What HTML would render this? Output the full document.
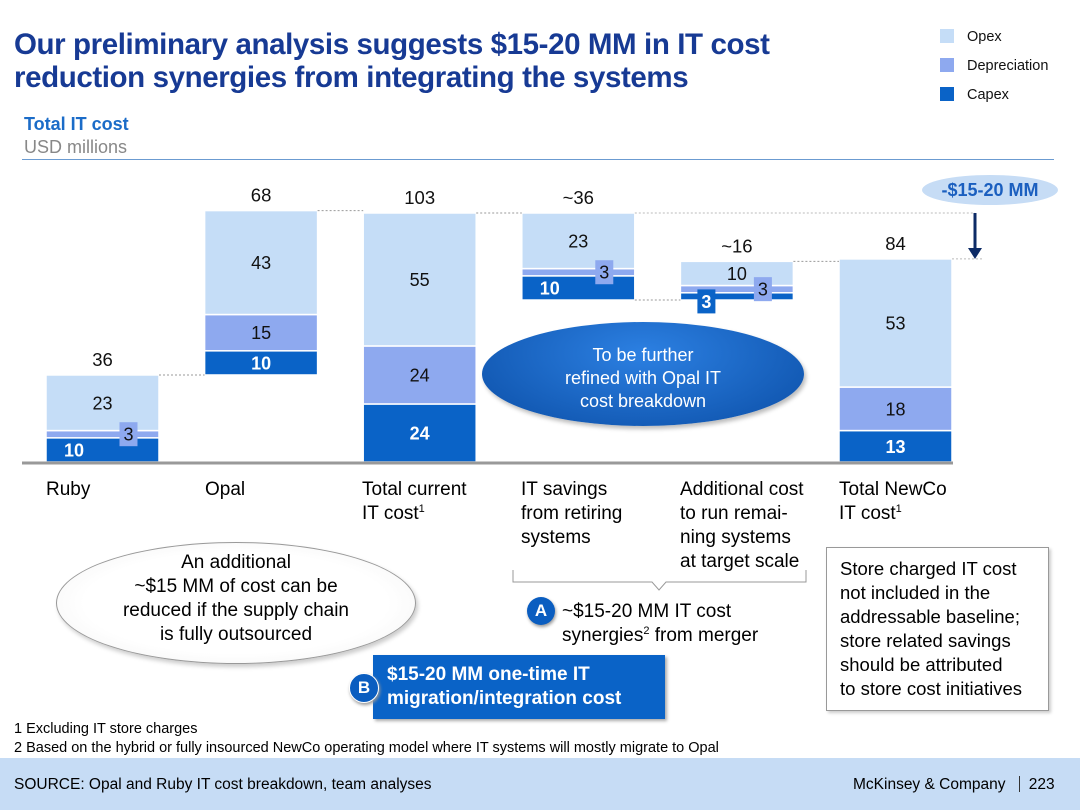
<!DOCTYPE html>
<html><head><meta charset="utf-8"><style>
body{margin:0;width:1080px;height:810px;position:relative;overflow:hidden;background:#fff;font-family:"Liberation Sans",sans-serif;}
.abs{position:absolute;}
sup{font-size:11px;line-height:0;vertical-align:7px;}
</style></head><body>
<div class="abs" style="left:14px;top:28px;font-size:29.5px;font-weight:bold;color:#173a94;line-height:33px;letter-spacing:-0.4px;white-space:nowrap">Our preliminary analysis suggests $15-20 MM in IT cost<br>reduction synergies from integrating the systems</div>
<div class="abs" style="left:24px;top:114px;font-size:18px;font-weight:bold;color:#1b6cc8">Total IT cost</div>
<div class="abs" style="left:24px;top:137px;font-size:18px;color:#888">USD millions</div>
<div class="abs" style="left:22px;top:159px;width:1032px;height:1px;background:#6b9bd1"></div>
<div class="abs" style="left:940px;top:23px;font-size:14.5px;color:#111;line-height:29px">
<div><span style="display:inline-block;width:14px;height:14px;background:#c5ddf7;vertical-align:-2px;margin-right:13px"></span>Opex</div>
<div><span style="display:inline-block;width:14px;height:14px;background:#8ea9ef;vertical-align:-2px;margin-right:13px"></span>Depreciation</div>
<div><span style="display:inline-block;width:14px;height:14px;background:#0a63c7;vertical-align:-2px;margin-right:13px"></span>Capex</div>
</div>
<svg class="abs" style="left:0;top:0" width="1080" height="810" id="chart"></svg>
<div class="abs" style="left:482px;top:322px;width:322px;height:104px;border-radius:50%;background:radial-gradient(ellipse at 50% 30%,#2c80e2,#0b4ea6);box-shadow:2px 3px 4px #bbb;color:#fff;font-size:18px;text-align:center;line-height:23px;padding-top:22px;box-sizing:border-box">To be further<br>refined with Opal IT<br>cost breakdown</div>
<div class="abs" style="left:922px;top:175px;width:136px;height:30px;border-radius:50%;background:#c6dcf5;color:#1b5fbf;font-weight:bold;font-size:18px;text-align:center;line-height:30px">-$15-20 MM</div>
<div class="abs" style="left:46px;top:478px;font-size:19px;line-height:24px">Ruby</div>
<div class="abs" style="left:205px;top:478px;font-size:19px;line-height:24px">Opal</div>
<div class="abs" style="left:362px;top:478px;font-size:19px;line-height:24px">Total current<br>IT cost<sup>1</sup></div>
<div class="abs" style="left:521px;top:478px;font-size:19px;line-height:24px">IT savings<br>from retiring<br>systems</div>
<div class="abs" style="left:680px;top:478px;font-size:19px;line-height:24px">Additional cost<br>to run remai-<br>ning systems<br>at target scale</div>
<div class="abs" style="left:839px;top:478px;font-size:19px;line-height:24px">Total NewCo<br>IT cost<sup>1</sup></div>
<div class="abs" style="left:56px;top:542px;width:360px;height:122px;border-radius:50%;border:1px solid #999;background:radial-gradient(ellipse,#fff 60%,#eee);box-shadow:2px 3px 4px #ccc;font-size:19px;text-align:center;line-height:24px;padding-top:8px;box-sizing:border-box">An additional<br>~$15 MM of cost can be<br>reduced if the supply chain<br>is fully outsourced</div>
<div class="abs" style="left:527px;top:597px;width:28px;height:28px;border-radius:50%;background:#0a5dc0;color:#fff;font-weight:bold;font-size:17px;text-align:center;line-height:28px;box-shadow:1px 2px 3px #999">A</div>
<div class="abs" style="left:562px;top:600px;font-size:19px;line-height:24px">~$15-20 MM IT cost<br>synergies<sup>2</sup> from merger</div>
<div class="abs" style="left:373px;top:655px;width:292px;height:64px;background:#0a63c7;box-shadow:2px 2px 3px #aaa;color:#fff;font-weight:bold;font-size:19px;line-height:24px;padding:8px 0 0 14px;box-sizing:border-box">$15-20 MM one-time IT<br>migration/integration cost</div>
<div class="abs" style="left:349px;top:673px;width:28px;height:28px;border-radius:50%;background:#0a5dc0;border:1px solid #fff;color:#fff;font-weight:bold;font-size:17px;text-align:center;line-height:28px;box-shadow:1px 2px 3px #999">B</div>
<div class="abs" style="left:826px;top:547px;width:223px;height:164px;border:1px solid #999;box-shadow:2px 2px 3px #ccc;font-size:18.5px;line-height:24px;padding:9px 0 0 13px;box-sizing:border-box;white-space:nowrap">Store charged IT cost<br>not included in the<br>addressable baseline;<br>store related savings<br>should be attributed<br>to store cost initiatives</div>
<div class="abs" style="left:14px;top:721px;font-size:14.5px">1 Excluding IT store charges</div>
<div class="abs" style="left:14px;top:740px;font-size:14.5px">2 Based on the hybrid or fully insourced NewCo operating model where IT systems will mostly migrate to Opal</div>
<div class="abs" style="left:0;top:758px;width:1080px;height:52px;background:#c6dcf5"></div>
<div class="abs" style="left:14px;top:776px;font-size:15.5px">SOURCE: Opal and Ruby IT cost breakdown, team analyses</div>
<div class="abs" style="left:853px;top:776px;font-size:15.5px">McKinsey &amp; Company <span style="display:inline-block;width:1px;height:16px;background:#333;vertical-align:-3px;margin:0 9px"></span>223</div>
<script>
const categories=["Ruby","Opal","Total current IT cost","IT savings","Additional cost","Total NewCo IT cost"];
const totals=["36","68","103","~36","~16","84"];
const capex=[10,10,24,10,3,13];
const depreciation=[3,15,24,3,3,18];
const opex=[23,43,55,23,10,53];
const direction=[1,1,1,-1,1,1];
const startAtPrev=[false,true,false,true,true,false];
const svg=document.getElementById('chart');
const NS='http://www.w3.org/2000/svg';
const baseY=462, pxPerUnit=249/103, x0=46, step=158.6, barW=113;
const yScale=v=>baseY-v*pxPerUnit;
const xScale=i=>x0+i*step;
function mk(tag,attrs){const e=document.createElementNS(NS,tag);for(const k in attrs)e.setAttribute(k,attrs[k]);svg.appendChild(e);return e;}
const cols={capex:'#0a63c7',dep:'#8ea9ef',opex:'#c5ddf7'};
let level=0;const tops=[],bottoms=[];const labels=[];
for(let i=0;i<categories.length;i++){
  const tot=capex[i]+depreciation[i]+opex[i];
  let lo,hi;
  if(direction[i]<0){hi=level;lo=level-tot;level=lo;}
  else{lo=startAtPrev[i]?level:0;hi=lo+tot;level=hi;}
  tops.push(hi);bottoms.push(lo);
  const x=xScale(i);
  const segs=[['capex',capex[i]],['dep',depreciation[i]],['opex',opex[i]]];
  let cur=lo;
  segs.forEach(([k,v])=>{
    const y1=yScale(cur+v),y2=yScale(cur);
    const r=mk('rect',{x:x,y:y1,width:barW,height:y2-y1,fill:cols[k],stroke:'#fff','stroke-width':1.5});
    
    
    const cy=(y1+y2)/2;
    let tx=x+barW/2, ty=cy, box=null;
    if(v<5){
      if(k==='dep'){tx=x+barW*0.73;box=cols.dep;}
      if(k==='capex'){tx=x+26;ty=cy+5;box=cols.capex;}
    }
    if(k==='capex'&&(i===0||i===3)){tx=x+28;}
    labels.push({k,v,i,tx,ty,box});
    cur+=v;
  });
  const tl=mk('text',{x:x+barW/2,y:yScale(hi)-9,'text-anchor':'middle','font-size':18.5,fill:'#111','font-family':'Liberation Sans, sans-serif'});
  tl.textContent=totals[i];
  
  
}
labels.forEach(o=>{
  if(o.box){const b=mk('rect',{x:o.tx-9,y:o.ty-12,width:18,height:24,fill:o.box});}
  const t=mk('text',{x:o.tx,y:o.ty+6.5,'text-anchor':'middle','font-size':18,'font-weight':o.k==='capex'?'bold':'normal',fill:o.k==='capex'?'#fff':'#111','font-family':'Liberation Sans, sans-serif'});
  t.textContent=o.v;
  
  
});
for(let i=0;i<categories.length-1;i++){
  const y=yScale(direction[i]<0?bottoms[i]:tops[i]);
  const l=mk('line',{x1:xScale(i)+barW,x2:xScale(i+1),y1:y,y2:y,stroke:'#999','stroke-dasharray':'2,2','stroke-width':1});
  
  
}
const yTop=yScale(tops[2]),yEnd=yScale(tops[5]);
let l=mk('line',{x1:xScale(3)+barW,x2:975,y1:yTop,y2:yTop,stroke:'#bbb','stroke-dasharray':'2,2'});
l=mk('line',{x1:xScale(5)+barW,x2:982,y1:yEnd,y2:yEnd,stroke:'#bbb','stroke-dasharray':'2,2'});
l=mk('line',{x1:975,x2:975,y1:213,y2:250,stroke:'#0d2b66','stroke-width':3});
l=mk('polygon',{points:'968,248 982,248 975,259',fill:'#0d2b66'});
l=mk('line',{x1:22,x2:953,y1:baseY+1,y2:baseY+1,stroke:'#999','stroke-width':3});
l=mk('path',{d:'M513 570 V582 H652 L659 590 L666 582 H806 V570',fill:'none',stroke:'#999','stroke-width':1});
</script>
</body></html>
